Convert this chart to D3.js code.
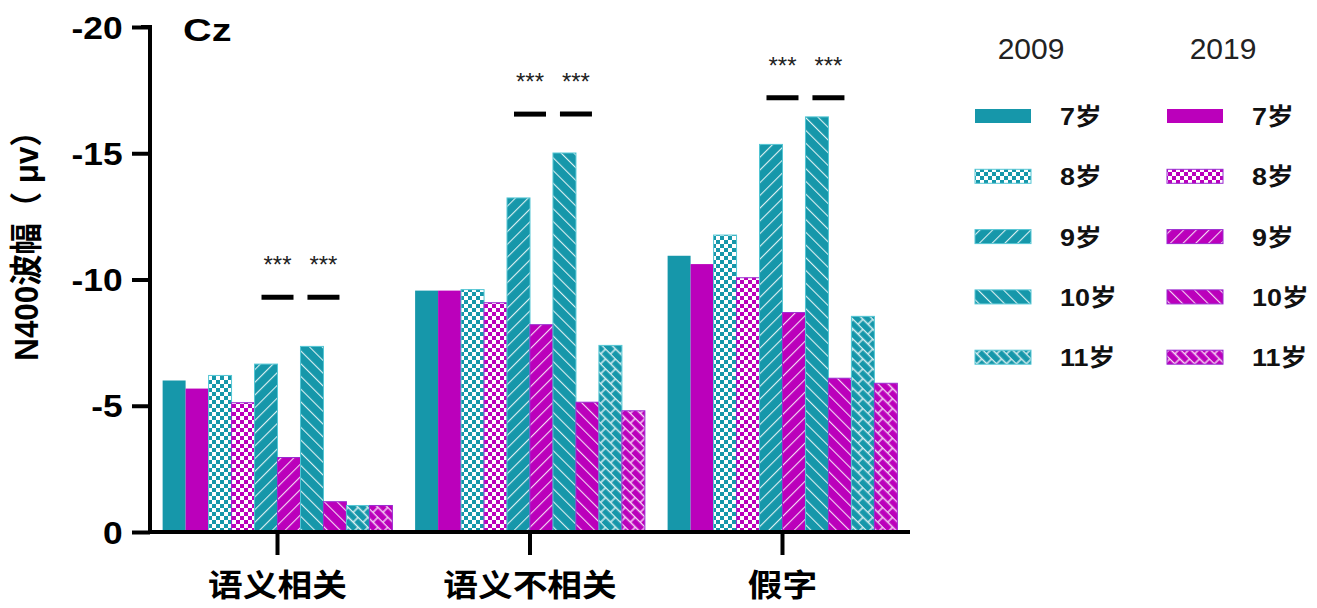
<!DOCTYPE html>
<html><head><meta charset="utf-8">
<script src="https://cdn.jsdelivr.net/npm/d3@7"></script>
<style>
html,body{margin:0;padding:0;background:#fff;}
svg{display:block;}
</style></head>
<body>
<svg id="chart" width="1317" height="608"></svg>
<script>
// ---- data ----
const categories = ["语义相关", "语义不相关", "假字"];
const years = ["2009", "2019"];
const ages = ["7岁", "8岁", "9岁", "10岁", "11岁"];
const yTicks = [0, -5, -10, -15, -20];
// values per age for each category (N400, μV)
const v2009 = [
  [-6.0, -6.2, -6.65, -7.35, -1.05],
  [-9.56, -9.6, -13.23, -15.01, -7.39],
  [-10.94, -11.76, -15.35, -16.44, -8.54]
];
const v2019 = [
  [-5.68, -5.12, -2.95, -1.2, -1.05],
  [-9.56, -9.08, -8.21, -5.14, -4.8],
  [-10.61, -10.07, -8.69, -6.09, -5.89]
];
const sigAges = ["9岁", "10岁"];
const sigLevels = [-9.3, -16.55, -17.2];
const sigText = "***";

// ---- setup ----
const svg = d3.select("#chart");
const teal = "#1697aa", mag = "#bb00bb";
const colors = {"2009": teal, "2019": mag};
const strokes = {"2009": "#54c6d4", "2019": "#9a2ad0"};
const latin = "'Liberation Sans', Arial, sans-serif";
const cjk = "'Liberation Sans', 'Noto Sans CJK SC', sans-serif";

const y = d3.scaleLinear().domain([0, -20]).range([532, 27]);
const x0 = d3.scaleBand().domain(categories).range([150, 910]).paddingInner(0.09).paddingOuter(0.05);
const keys = [];
ages.forEach(a => years.forEach(yr => keys.push(yr + "|" + a)));
const x1 = d3.scaleBand().domain(keys).range([0, x0.bandwidth()]).padding(0);

// ---- patterns ----
const defs = svg.append("defs");
function mkPattern(id, color, type) {
  const p = defs.append("pattern").attr("id", id).attr("patternUnits", "userSpaceOnUse");
  if (type === 1) { // checker
    p.attr("width", 8).attr("height", 8);
    p.append("rect").attr("width", 8).attr("height", 8).attr("fill", color);
    p.append("rect").attr("x", 0).attr("y", 0).attr("width", 4).attr("height", 4).attr("fill", "#fff");
    p.append("rect").attr("x", 4).attr("y", 4).attr("width", 4).attr("height", 4).attr("fill", "#fff");
  } else if (type === 2 || type === 3) { // diagonal
    p.attr("width", 9).attr("height", 9).attr("patternTransform", "rotate(" + (type === 2 ? 45 : -45) + ")");
    p.append("rect").attr("width", 9).attr("height", 9).attr("fill", color);
    p.append("line").attr("x1", 0).attr("y1", 0).attr("x2", 0).attr("y2", 9)
      .attr("stroke", "#fff").attr("stroke-width", 2.2).attr("opacity", 0.85);
  } else if (type === 4) { // rotated bricks
    p.attr("width", 14).attr("height", 14).attr("patternTransform", "rotate(45)");
    p.append("rect").attr("width", 14).attr("height", 14).attr("fill", color);
    p.append("path").attr("d", "M0,0.5H14M0,7.5H14M3,0.5V7.5M10,7.5V14")
      .attr("stroke", "#fff").attr("stroke-width", 1.4).attr("fill", "none").attr("opacity", 0.85);
  }
}
years.forEach(yr => [1, 2, 3, 4].forEach(t => mkPattern("p" + yr + "_" + t, colors[yr], t)));
function fillFor(yr, ai) { return ai === 0 ? colors[yr] : "url(#p" + yr + "_" + ai + ")"; }

// ---- bars ----
const barData = [];
categories.forEach((c, ci) => {
  ages.forEach((a, ai) => {
    years.forEach(yr => {
      const v = (yr === "2009" ? v2009 : v2019)[ci][ai];
      barData.push({c, a, ai, yr, v});
    });
  });
});
svg.append("g").selectAll("rect").data(barData).join("rect")
  .attr("x", d => x0(d.c) + x1(d.yr + "|" + d.a))
  .attr("width", x1.bandwidth())
  .attr("y", d => y(d.v))
  .attr("height", d => y(0) - y(d.v))
  .attr("fill", d => fillFor(d.yr, d.ai))
  .attr("stroke", d => d.ai === 0 ? "none" : strokes[d.yr])
  .attr("stroke-width", 1);

// ---- axes ----
const yAxis = svg.append("g").attr("transform", "translate(150,0)")
  .call(d3.axisLeft(y).tickValues(yTicks).tickSize(18).tickPadding(6).tickFormat(d => String(d)));
yAxis.select(".domain").attr("stroke", "#000").attr("stroke-width", 4).attr("d", "M-9,27H0V532");
yAxis.selectAll(".tick line").attr("stroke", "#000").attr("stroke-width", 4);
yAxis.selectAll(".tick text").attr("fill", "#000")
  .style("font-family", latin).style("font-size", "31px").style("font-weight", "bold")
  .attr("dy", "0.36em").attr("transform", "scale(1.14,1)");

const xAxis = svg.append("g").attr("transform", "translate(0,532)")
  .call(d3.axisBottom(x0).tickSize(23).tickPadding(22).tickSizeOuter(0));
xAxis.select(".domain").attr("stroke", "#000").attr("stroke-width", 4).attr("d", "M148,0H910");
xAxis.selectAll(".tick line").attr("stroke", "#000").attr("stroke-width", 4);
xAxis.selectAll(".tick text").attr("fill", "#000")
  .style("font-family", cjk).style("font-size", "31px").style("font-weight", "bold")
  .attr("dy", "0.62em")
  .attr("transform", "scale(1.12,1)");

// Y title
svg.append("text").attr("transform", "translate(38,238) rotate(-90) scale(1.08,1.12)")
  .attr("text-anchor", "middle")
  .style("font-family", cjk).style("font-size", "29px").style("font-weight", "bold")
  .text("N400波幅（ μv）");

// Cz
svg.append("text").attr("transform", "translate(183,41) scale(1.28,1)")
  .style("font-family", latin).style("font-size", "31px").style("font-weight", "bold")
  .text("Cz");

// ---- significance ----
const sig = [];
categories.forEach((c, ci) => sigAges.forEach(a => sig.push({c, a, lv: sigLevels[ci]})));
const sg = svg.append("g");
sig.forEach(s => {
  const cx = x0(s.c) + x1("2019|" + s.a);
  sg.append("line").attr("x1", cx - 16).attr("x2", cx + 16)
    .attr("y1", y(s.lv)).attr("y2", y(s.lv)).attr("stroke", "#000").attr("stroke-width", 5);
  sg.append("text").attr("x", cx).attr("y", y(s.lv) - 24).attr("text-anchor", "middle")
    .style("font-family", latin).style("font-size", "24px").attr("fill", "#222").text(sigText);
});

// ---- legend ----
const lg = svg.append("g");
const colX = {"2009": 975, "2019": 1167};
years.forEach(yr => {
  lg.append("text").attr("x", colX[yr] + 56).attr("y", 59).attr("text-anchor", "middle")
    .style("font-family", latin).style("font-size", "30px").attr("fill", "#222").text(yr);
  ages.forEach((a, ai) => {
    const yy = 116 + ai * 60.3;
    lg.append("rect").attr("x", colX[yr]).attr("y", yy - 7).attr("width", 56).attr("height", 14)
      .attr("fill", fillFor(yr, ai)).attr("stroke", ai === 0 ? "none" : strokes[yr]).attr("stroke-width", 1);
    lg.append("text").attr("transform", "translate(" + (colX[yr] + 85) + "," + (yy + 9) + ") scale(1.12,1)")
      .style("font-family", cjk).style("font-size", "24px").style("font-weight", "bold").attr("fill", "#111")
      .text(a);
  });
});
</script>
</body></html>
